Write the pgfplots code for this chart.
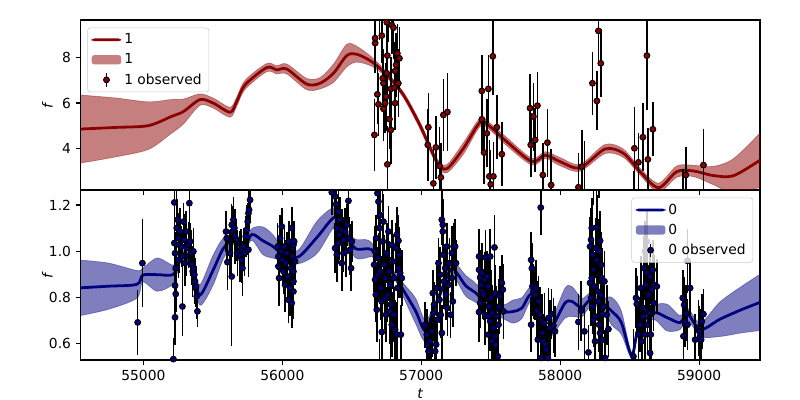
\documentclass[border=0pt]{standalone}
\usepackage{fontspec}
\setmainfont{DejaVu Sans}
\usepackage{pgfplots}
\usepackage{pgfplotstable}
\pgfplotsset{compat=1.18}
\usepgfplotslibrary{fillbetween}

\definecolor{mred}{rgb}{0.545,0,0}
\definecolor{mnavy}{rgb}{0,0,0.502}

% GP mean and half-width of the band, top panel
\pgfplotstableread{
x y e
54550 4.85 1.50
54800 4.92 1.30
55036 5.00 1.05
55200 5.40 0.75
55288 5.62 0.55
55408 6.15 0.25
55504 5.99 0.22
55624 5.59 0.22
55672 6.06 0.20
55732 6.80 0.20
55888 7.56 0.18
55960 7.46 0.18
56032 7.50 0.22
56176 6.83 0.25
56272 6.87 0.25
56368 7.31 0.40
56464 8.09 0.50
56536 8.15 0.35
56644 7.82 0.20
56752 7.24 0.12
56872 6.35 0.12
56992 5.00 0.15
57112 3.41 0.15
57184 3.10 0.18
57304 4.00 0.25
57424 5.15 0.18
57496 4.95 0.15
57616 4.29 0.18
57796 3.41 0.15
57892 3.70 0.15
57999 3.41 0.18
58143 3.14 0.15
58323 3.97 0.20
58455 3.78 0.18
58575 2.97 0.15
58707 2.26 0.20
58839 2.97 0.25
58959 3.00 0.25
59100 2.80 0.40
59247 2.79 0.75
59439 3.48 1.20
}\meanone

\pgfplotstableread{
x y e
56663 4.59 1.6
56668 8.64 1.3
56668 8.86 1.4
56684 6.38 1.3
56692 5.94 1.4
56700 10.2 1.4
56716 8.97 1.2
56723 7.09 1.3
56728 6.87 1.5
56728 5.74 1.4
56740 5.99 1.3
56747 6.28 1.5
56752 9.56 1.3
56752 7.31 1.3
56756 8.09 1.4
56756 3.29 1.7
56760 10.0 1.3
56771 5.29 1.3
56781 4.81 1.5
56781 6.62 1.4
56788 9.44 1.3
56790 9.9 1.2
56800 9.32 1.4
56807 6.68 1.3
56812 5.99 1.2
56812 7.41 1.3
56819 7.68 1.4
56828 8.19 1.3
56835 6.87 1.5
56843 7.97 1.4
57047 4.15 1.6
57051 4.93 1.5
57087 2.45 1.5
57105 4.04 1.4
57131 3.22 1.7
57141 2.72 1.5
57159 5.47 1.6
57188 5.60 1.7
57436 6.53 1.6
57436 5.28 1.5
57452 3.81 1.4
57472 4.66 1.5
57483 6.62 1.5
57490 2.76 1.6
57500 2.41 1.5
57515 8.06 1.7
57519 2.76 1.5
57544 4.93 1.4
57580 3.74 1.4
57783 5.77 1.5
57788 4.15 1.4
57807 5.40 1.5
57820 4.37 1.4
57836 5.88 1.5
57875 2.82 1.4
57908 4.25 1.5
57935 2.38 1.6
58131 2.28 1.5
58156 3.19 1.6
58175 1.90 2.4
58232 6.87 1.4
58264 6.09 1.3
58275 9.18 1.4
58292 7.75 1.5
58530 1.60 1.4
58534 4.00 1.8
58563 3.38 1.3
58595 4.49 1.5
58624 8.09 2.4
58631 3.51 1.4
58667 4.84 1.2
58885 1.60 1.5
58904 2.82 1.25
59031 3.26 1.6
}\obsone

% GP mean and half-width of the band, bottom panel
\pgfplotstableread{
x y e
54550 0.841 0.120
54750 0.848 0.100
54953 0.856 0.060
54996 0.896 0.030
55100 0.898 0.072
55216 0.899 0.040
55260 0.960 0.020
55307 0.990 0.015
55360 0.900 0.020
55408 0.810 0.045
55500 0.915 0.065
55576 1.012 0.045
55650 1.050 0.020
55720 1.010 0.020
55780 1.072 0.025
55860 1.045 0.060
55936 1.019 0.050
56008 0.983 0.025
56116 0.975 0.030
56250 1.060 0.070
56380 1.148 0.040
56450 1.080 0.020
56524 1.012 0.040
56600 1.010 0.040
56644 1.006 0.030
56700 0.960 0.015
56800 0.900 0.015
56872 0.830 0.030
56960 0.740 0.055
57030 0.655 0.045
57100 0.760 0.020
57208 0.918 0.020
57256 0.905 0.035
57320 0.850 0.045
57400 0.815 0.040
57480 0.760 0.020
57592 0.737 0.030
57660 0.738 0.050
57724 0.753 0.045
57791 0.812 0.030
57860 0.720 0.020
57910 0.640 0.020
57960 0.690 0.040
58035 0.775 0.065
58084 0.782 0.065
58156 0.755 0.040
58215 0.788 0.030
58300 0.775 0.020
58370 0.740 0.060
58440 0.690 0.050
58515 0.547 0.012
58563 0.668 0.030
58671 0.733 0.030
58768 0.712 0.058
58863 0.690 0.030
58916 0.728 0.025
59010 0.660 0.030
59150 0.705 0.075
59300 0.745 0.100
59439 0.778 0.122
}\meanzero

\pgfplotstableread{
x y e
54959 0.691 0.14
54993 0.948 0.19
55216 0.532 0.09
55223 1.211 0.10
55223 1.035 0.11
55228 0.991 0.09
55233 0.926 0.12
55228 0.851 0.10
55233 0.814 0.08
55228 0.713 0.12
55240 1.100 0.10
55240 1.300 0.10
55247 1.136 0.09
55252 1.056 0.11
55252 0.962 0.08
55259 1.027 0.12
55264 1.085 0.10
55276 1.020 0.09
55281 0.760 0.13
55281 0.977 0.10
55288 1.128 0.08
55295 1.049 0.11
55300 0.948 0.10
55307 1.085 0.09
55312 1.013 0.12
55324 1.027 0.10
55331 1.208 0.11
55336 1.042 0.08
55343 0.991 0.10
55348 0.941 0.09
55355 0.912 0.11
55360 0.999 0.10
55360 0.926 0.08
55367 0.898 0.09
55372 0.869 0.10
55377 0.840 0.08
55379 0.847 0.09
55384 0.804 0.10
55389 0.739 0.07
55595 1.085 0.09
55600 1.056 0.10
55605 0.952 0.12
55624 0.991 0.10
55636 1.114 0.09
55636 0.890 0.30
55641 1.085 0.11
55648 1.136 0.10
55655 1.100 0.08
55660 1.064 0.12
55672 1.049 0.09
55679 0.991 0.10
55696 0.977 0.11
55703 1.006 0.09
55708 0.962 0.10
55713 0.926 0.12
55720 1.020 0.08
55727 0.991 0.10
55737 1.064 0.09
55744 1.092 0.11
55751 1.128 0.08
55756 1.164 0.10
55756 1.006 0.12
55761 1.179 0.09
55768 1.222 0.10
55770 1.300 0.10
55967 1.020 0.10
55972 0.977 0.09
55972 0.934 0.11
55977 0.883 0.12
55984 1.056 0.10
55991 0.999 0.09
55996 1.107 0.08
56001 0.962 0.11
56008 0.912 0.10
56015 1.020 0.09
56020 0.854 0.12
56025 0.948 0.10
56032 0.991 0.09
56039 0.890 0.11
56044 0.789 0.10
56049 1.042 0.09
56056 0.840 0.12
56063 0.926 0.10
56068 1.100 0.09
56068 0.775 0.11
56073 0.977 0.10
56075 1.013 0.08
56080 0.869 0.11
56080 1.027 0.09
56080 0.912 0.10
56080 0.825 0.12
56085 1.042 0.09
56092 0.955 0.10
56356 1.255 0.10
56380 1.237 0.09
56380 1.013 0.11
56387 1.203 0.10
56392 1.100 0.09
56392 0.984 0.12
56404 1.172 0.10
56404 1.035 0.09
56411 1.071 0.11
56416 1.136 0.10
56428 1.092 0.09
56428 0.948 0.12
56440 1.049 0.10
56440 0.991 0.08
56452 1.085 0.10
56459 0.999 0.11
56464 1.114 0.09
56476 1.218 0.10
56483 1.056 0.09
56488 1.006 0.11
56495 0.926 0.10
56500 1.042 0.09
56661 0.941 0.12
56668 0.999 0.11
56668 0.876 0.13
56673 0.811 0.12
56675 1.056 0.10
56680 0.746 0.14
56685 1.251 0.11
56687 0.898 0.12
56690 1.310 0.10
56692 1.215 0.12
56692 0.970 0.11
56699 1.100 0.13
56700 0.500 0.12
56704 1.157 0.11
56704 0.912 0.12
56709 0.840 0.14
56716 0.782 0.12
56716 0.649 0.13
56720 1.290 0.12
56723 1.042 0.11
56728 1.128 0.12
56733 0.941 0.13
56740 0.883 0.11
56740 0.797 0.14
56747 0.724 0.12
56752 0.991 0.13
56757 0.811 0.12
56764 1.085 0.11
56769 0.912 0.13
56776 0.854 0.12
56776 0.739 0.14
56780 0.520 0.13
56781 0.768 0.12
56788 1.027 0.11
56788 0.681 0.14
56795 0.955 0.12
56800 0.883 0.13
56805 0.724 0.12
56810 0.480 0.15
56812 0.659 0.13
56819 1.013 0.11
56824 1.071 0.12
56824 0.638 0.14
56829 0.840 0.12
56836 1.045 0.11
56836 0.926 0.13
56843 0.984 0.12
56848 0.905 0.11
56853 0.638 0.13
56860 0.883 0.12
57028 0.681 0.10
57040 0.638 0.11
57044 0.595 0.10
57050 0.500 0.10
57052 0.566 0.12
57064 0.609 0.10
57070 0.520 0.10
57076 0.652 0.11
57083 0.818 0.10
57088 0.732 0.12
57092 0.768 0.10
57100 0.566 0.11
57107 0.595 0.10
57112 0.840 0.12
57116 0.703 0.10
57124 0.948 0.11
57131 0.789 0.10
57136 0.898 0.12
57140 0.724 0.10
57148 1.136 0.11
57148 0.645 0.12
57150 1.300 0.12
57155 1.085 0.10
57155 1.114 0.11
57160 0.984 0.10
57164 0.869 0.12
57172 0.926 0.10
57179 0.811 0.11
57184 1.020 0.10
57188 0.753 0.12
57196 0.854 0.10
57203 0.948 0.11
57212 0.724 0.10
57220 0.991 0.12
57220 0.883 0.10
57227 0.782 0.11
57232 1.020 0.10
57244 1.020 0.12
57250 0.948 0.10
57416 0.977 0.12
57416 0.919 0.11
57416 0.736 0.13
57424 0.886 0.12
57424 0.775 0.11
57431 0.854 0.12
57436 0.905 0.13
57440 0.825 0.12
57448 0.811 0.11
57455 0.876 0.12
57460 0.724 0.13
57464 0.973 0.12
57472 0.890 0.11
57479 0.847 0.12
57484 0.638 0.13
57484 0.717 0.12
57488 0.760 0.11
57496 0.977 0.12
57496 0.696 0.13
57503 0.797 0.12
57508 0.609 0.11
57512 0.732 0.12
57520 0.667 0.13
57520 0.500 0.12
57527 1.016 0.14
57532 0.818 0.12
57532 0.630 0.11
57536 0.594 0.12
57543 0.717 0.13
57545 0.480 0.10
57551 0.544 0.12
57556 0.681 0.11
57560 0.760 0.12
57568 0.804 0.13
57580 0.862 0.12
57587 0.833 0.11
57592 0.739 0.12
57791 0.962 0.12
57796 0.926 0.11
57791 0.681 0.12
57800 0.847 0.13
57807 0.825 0.12
57820 0.811 0.11
57824 0.840 0.12
57832 0.742 0.13
57839 0.616 0.12
57844 0.782 0.11
57855 0.724 0.12
57860 1.189 0.12
57863 0.537 0.13
57868 0.696 0.12
57872 0.645 0.11
57879 0.609 0.12
57887 0.688 0.13
57891 0.594 0.12
57899 0.573 0.11
57911 0.537 0.12
57915 0.710 0.13
57927 0.667 0.12
57939 0.727 0.11
57951 0.678 0.12
57963 0.652 0.11
58131 0.693 0.12
58150 0.742 0.13
58174 0.652 0.12
58203 0.561 0.12
58215 1.020 0.13
58215 0.862 0.12
58222 1.049 0.14
58222 0.796 0.12
58227 1.100 0.13
58227 0.883 0.12
58232 0.984 0.14
58234 0.760 0.12
58239 0.919 0.13
58239 0.703 0.12
58240 1.320 0.12
58246 0.847 0.13
58251 0.717 0.12
58251 0.609 0.14
58256 1.013 0.13
58260 1.300 0.10
58263 1.103 0.14
58263 0.962 0.12
58270 0.825 0.13
58275 0.782 0.12
58280 0.999 0.14
58280 0.681 0.12
58280 1.350 0.12
58287 1.045 0.13
58287 0.645 0.12
58294 0.941 0.14
58294 0.811 0.12
58299 0.883 0.13
58299 0.727 0.12
58300 0.500 0.10
58304 0.616 0.13
58311 0.760 0.12
58318 0.869 0.13
58320 0.490 0.12
58323 0.537 0.12
58335 0.724 0.13
58347 0.662 0.12
58527 0.544 0.12
58546 0.797 0.13
58551 0.771 0.12
58563 0.641 0.13
58575 0.681 0.12
58580 0.840 0.14
58587 0.609 0.12
58594 0.717 0.13
58599 0.753 0.12
58604 0.926 0.14
58611 0.999 0.13
58611 0.638 0.12
58618 0.854 0.13
58623 0.905 0.12
58623 1.042 0.14
58628 0.681 0.12
58635 0.811 0.13
58642 0.731 0.12
58647 0.558 0.13
58647 0.890 0.12
58652 0.638 0.13
58659 0.833 0.12
58666 0.919 0.13
58671 0.775 0.12
58676 0.854 0.13
58695 0.847 0.12
58882 0.797 0.12
58887 0.631 0.11
58892 0.767 0.12
58899 0.695 0.11
58906 0.731 0.12
58916 0.681 0.11
58916 0.958 0.14
58935 0.840 0.12
58971 0.616 0.11
58995 0.667 0.12
59002 0.652 0.11
59007 0.631 0.12
59014 0.616 0.11
59019 0.695 0.12
59031 0.727 0.11
}\obszero

\pgfplotsset{
  panel/.style={
    width=6.793in, height=1.7in, scale only axis,
    xmin=54549, xmax=59438,
    xtick={55000,56000,57000,58000,59000},
    scaled x ticks=false,
    tick align=outside, tick pos=left,
    major tick length=3.5pt,
    every tick/.style={black, line width=0.8pt},
    axis line style={line width=0.8pt},
    tick label style={font=\fontsize{10}{12}\selectfont},
    label style={font=\fontsize{10}{12}\selectfont},
    /pgf/number format/assume math mode=true,
    /pgf/number format/1000 sep={},
    ylabel={\textit{f}},
    ylabel style={at={(axis description cs:-0.041,0.5)}, anchor=south, inner sep=0pt},
    legend cell align=left,
  },
  linelegend/.style={legend image code/.code={%
    \path[fill=#1, fill opacity=1, draw=none] (0cm,-1pt) rectangle (0.75cm,1pt);}},
  bandlegend/.style={legend image code/.code={%
    \path[fill=#1, fill opacity=0.5, draw=none] (0cm,-0.12cm) rectangle (0.75cm,0.12cm);}},
  obslegend/.style={legend image code/.code={%
    \draw[black, line width=1.1pt] (0.375cm,-0.17cm) -- (0.375cm,0.17cm);
    \draw[fill=#1, fill opacity=1, draw=black, line width=0.7pt] (0.375cm,0cm) circle (2.1pt);}},
  boxlegend/.style={legend style={draw=black!20, rounded corners=2pt, fill=white,
    fill opacity=0.8, draw opacity=1, text opacity=1,
    font=\fontsize{10}{12}\selectfont, inner xsep=3pt, inner ysep=2pt,
    row sep=1.2pt, nodes={inner sep=2.2pt}}},
  obsplot/.style={only marks, mark=*, mark size=2.1pt,
    mark options={fill=#1, draw=black, line width=0.7pt},
    error bars/.cd, y dir=both, y explicit,
    error mark=none, error bar style={black, line width=1.1pt}},
}

\begin{document}
\begin{tikzpicture}

% bottom panel, series 0
\begin{axis}[panel, at={(0,0)},
  ymin=0.528, ymax=1.265,
  ytick={0.6,0.8,1.0,1.2},
  yticklabel style={/pgf/number format/fixed, /pgf/number format/fixed zerofill, /pgf/number format/precision=1},
  xlabel={\textit{t}},
  xlabel style={at={(axis description cs:0.5,-0.165)}, anchor=north, inner sep=0pt},
  boxlegend,
  legend style={at={(0.99,0.955)}, anchor=north east},
]
\addplot[mnavy, line width=2pt, smooth, tension=0.5, linelegend=mnavy] table[x=x, y=y] {\meanzero};
\addlegendentry{0}
\addplot[name path=upz, draw=mnavy, draw opacity=0.4, line width=0.5pt, smooth, tension=0.5, forget plot]
  table[x=x, y expr=\thisrow{y}+\thisrow{e}] {\meanzero};
\addplot[name path=loz, draw=mnavy, draw opacity=0.4, line width=0.5pt, smooth, tension=0.5, forget plot]
  table[x=x, y expr=\thisrow{y}-\thisrow{e}] {\meanzero};
\addplot[fill=mnavy, fill opacity=0.5, draw=none, bandlegend=mnavy] fill between[of=upz and loz];
\addlegendentry{0}
\addplot[obslegend=mnavy, obsplot=mnavy] table[x=x, y=y, y error=e] {\obszero};
\addlegendentry{0 observed}
\end{axis}

% top panel, series 1
\begin{axis}[panel, at={(0,1.7in)},
  ymin=2.16, ymax=9.66,
  ytick={4,6,8},
  xticklabels={},
  boxlegend,
  legend style={at={(0.0097,0.955)}, anchor=north west},
]
\addplot[mred, line width=2pt, smooth, tension=0.5, linelegend=mred] table[x=x, y=y] {\meanone};
\addlegendentry{1}
\addplot[name path=upo, draw=mred, draw opacity=0.4, line width=0.5pt, smooth, tension=0.5, forget plot]
  table[x=x, y expr=\thisrow{y}+\thisrow{e}] {\meanone};
\addplot[name path=loo, draw=mred, draw opacity=0.4, line width=0.5pt, smooth, tension=0.5, forget plot]
  table[x=x, y expr=\thisrow{y}-\thisrow{e}] {\meanone};
\addplot[fill=mred, fill opacity=0.5, draw=none, bandlegend=mred] fill between[of=upo and loo];
\addlegendentry{1}
\addplot[obslegend=mred, obsplot=mred] table[x=x, y=y, y error=e] {\obsone};
\addlegendentry{1 observed}
\end{axis}

% page frame: 800 x 400 px at 100 px per inch
\path (-0.807in,-0.4in) rectangle (7.193in,3.6in);
\end{tikzpicture}
\end{document}
